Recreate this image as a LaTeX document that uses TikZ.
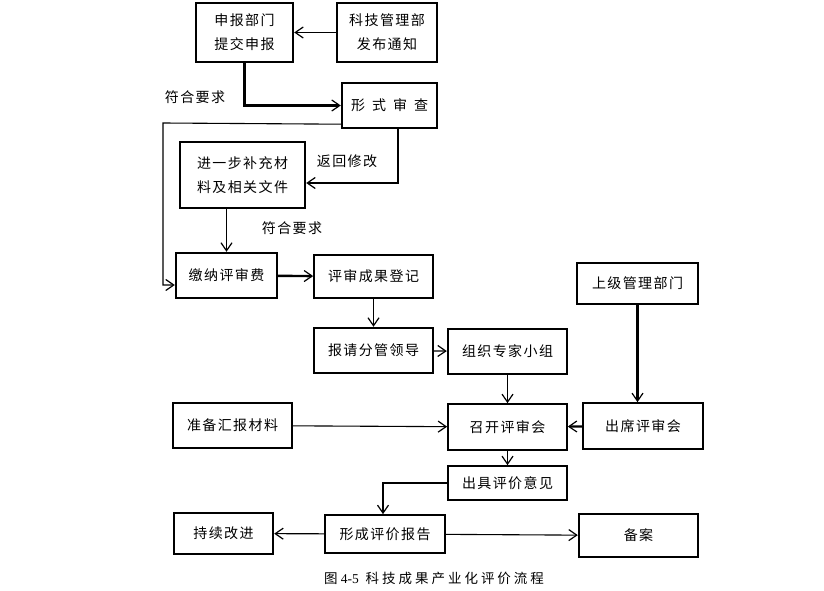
\documentclass[tikz,border=0pt]{standalone}
\usepackage{fontspec}
\setmainfont{Liberation Serif}
\newfontfamily\cjk[LetterSpace=10]{Noto Sans CJK SC}
\newfontfamily\cjkw[LetterSpace=50]{Noto Sans CJK SC}
\newfontfamily\cjkcap[LetterSpace=22]{Noto Sans CJK SC}
\usepackage{tikz}
\usetikzlibrary{arrows.meta,calc}

\tikzset{
    box/.style={draw, line width=2.4pt, align=center, inner sep=0pt,
        font=\cjk\fontsize{14}{24}\selectfont},
    thinbox/.style={box, line width=1.7pt},
    arr/.style={-{Straight Barb[length=8pt,width=11pt,line width=1.2pt]}, line width=1.1pt},
    thickarr/.style={arr, line width=2.4pt},
    lbl/.style={font=\cjk\fontsize{14}{16}\selectfont}
}

\begin{document}
\begin{tikzpicture}[x=1pt,y=-1pt]
    \useasboundingbox (0,0) rectangle (824,591);

    % Application and formal check
    \node[box, minimum width=97pt, minimum height=59pt] (apply) at (244.5,32.5) {申报部门\\提交申报};
    \node[box, minimum width=100pt, minimum height=59pt] (notice) at (387,32.5) {科技管理部\\发布通知};
    \node[box, minimum width=95pt, minimum height=45pt, font=\cjkw\fontsize{14}{24}\selectfont] (check) at (389.5,105.5) {形式审查};
    \node[box, minimum width=125pt, minimum height=66pt] (supp) at (242.5,175) {进一步补充材\\料及相关文件};

    % Fee and registration
    \node[box, minimum width=101pt, minimum height=45pt] (fee) at (226.5,275.5) {缴纳评审费};
    \node[thinbox, minimum width=119pt, minimum height=43pt] (reg) at (373.5,276.5) {评审成果登记};
    \node[box, minimum width=119pt, minimum height=45pt] (lead) at (373.5,350.5) {报请分管领导};
    \node[box, minimum width=119pt, minimum height=45pt] (expert) at (507.5,351.5) {组织专家小组};
    \node[thinbox, minimum width=121pt, minimum height=41pt] (upper) at (637.5,283.5) {上级管理部门};

    % Review meeting
    \node[thinbox, minimum width=119pt, minimum height=46pt] (meet) at (507.5,427) {召开评审会};
    \node[thinbox, minimum width=120pt, minimum height=46pt] (attend) at (643,426) {出席评审会};
    \node[box, minimum width=119pt, minimum height=45pt] (prep) at (232.5,425.5) {准备汇报材料};
    \node[thinbox, minimum width=119pt, minimum height=34pt] (opinion) at (507.5,483) {出具评价意见};

    % Report
    \node[thinbox, minimum width=120pt, minimum height=38pt] (report) at (385,534) {形成评价报告};
    \node[box, minimum width=99pt, minimum height=41pt] (improve) at (223.5,533.5) {持续改进};
    \node[box, minimum width=119pt, minimum height=43pt] (record) at (638.5,535.5) {备案};

    % Connectors
    \draw[arr] (notice) -- (apply);
    \draw[thickarr] (apply.south) |- (check.west);
    \coordinate (back) at (163,123);
    \draw[arr] ([yshift=5pt]check.south west) -- (back) |- ([yshift=-9.5pt]fee.west);
    \draw[arr] ([xshift=8.5pt]check.south) |- ([yshift=-8pt]supp.east);
    \draw[arr] (supp.south -| fee.north) -- (fee.north);
    \draw[thickarr] (fee) -- (reg);
    \draw[arr] (reg) -- (lead);
    \draw[arr] (lead) -- (expert);
    \draw[arr] (expert) -- (meet);
    \draw[thickarr] (upper.south) -- (upper.south |- attend.north);
    \draw[thickarr] (attend) -- (meet);
    \draw[arr] (prep) -- (meet);
    \draw[arr] (meet) -- (opinion);
    \draw[thickarr] (opinion.west) -| ([xshift=-2pt]report.north);
    \draw[arr] (report) -- (improve);
    \draw[arr] (report) -- (record);

    % Labels
    \node[lbl] (ok1) at (195,97) {符合要求};
    \node[lbl] (ret) at (347,161) {返回修改};
    \node[lbl] (ok2) at (292,228) {符合要求};

    % Caption
    \node[font=\fontsize{13.5}{15}\selectfont] (cap) at (434,578) {{\cjkcap 图}\ 4-5\ \ {\cjkcap 科技成果产业化评价流程}};
\end{tikzpicture}
\end{document}
